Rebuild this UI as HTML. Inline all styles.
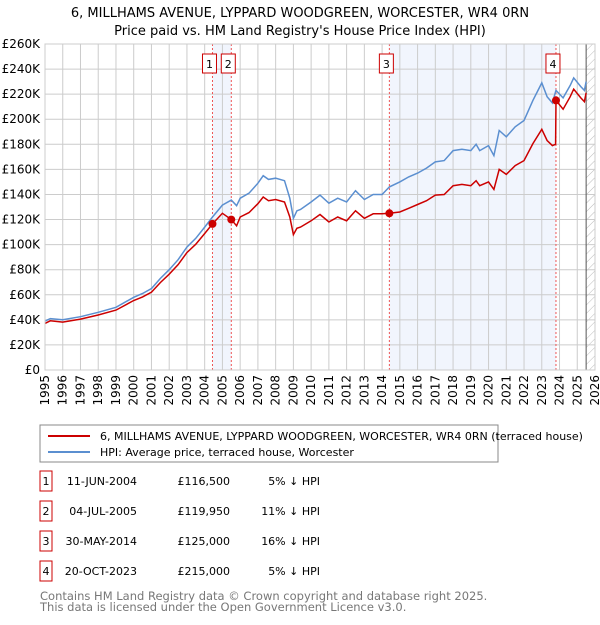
<!DOCTYPE html>
<html><head><meta charset="utf-8"><style>
body{margin:0;background:#fff;font-family:"Liberation Sans",sans-serif;}
svg text{font-family:"DejaVu Sans","Liberation Sans",sans-serif;}
</style></head><body>
<svg width="600" height="620" xmlns="http://www.w3.org/2000/svg">
<defs><pattern id="hatch" width="6" height="6" patternUnits="userSpaceOnUse" patternTransform="rotate(45)"><line x1="0" y1="0" x2="0" y2="6" stroke="#bbb" stroke-width="1"/></pattern></defs>
<text x="300" y="17" text-anchor="middle" font-size="13">6, MILLHAMS AVENUE, LYPPARD WOODGREEN, WORCESTER, WR4 0RN</text>
<text x="300" y="35" text-anchor="middle" font-size="13">Price paid vs. HM Land Registry's House Price Index (HPI)</text>
<g id="plot"></g>
<rect x="40" y="425" width="458" height="37" fill="none" stroke="#888"/>
<line x1="48" y1="436" x2="90" y2="436" stroke="#cc0000" stroke-width="2"/>
<text x="100" y="440" font-size="11">6, MILLHAMS AVENUE, LYPPARD WOODGREEN, WORCESTER, WR4 0RN (terraced house)</text>
<line x1="48" y1="452" x2="90" y2="452" stroke="#5b8fd0" stroke-width="2"/>
<text x="100" y="456" font-size="11">HPI: Average price, terraced house, Worcester</text>
<g id="table" font-size="11"></g>
<text x="40" y="600" font-size="11.5" fill="#777">Contains HM Land Registry data © Crown copyright and database right 2025.</text>
<text x="40" y="611" font-size="11.5" fill="#777">This data is licensed under the Open Government Licence v3.0.</text>
</svg>
<script>
const years=[1995,1995.3,1996,1997,1998,1999,2000,2000.5,2001,2001.5,2002,2002.5,2003,2003.5,2004,2004.44,2005,2005.5,2005.8,2006,2006.5,2007,2007.3,2007.6,2008,2008.5,2008.8,2009,2009.2,2009.4,2010,2010.5,2011,2011.5,2012,2012.5,2013,2013.5,2014,2014.41,2015,2015.5,2016,2016.5,2017,2017.5,2018,2018.5,2019,2019.3,2019.5,2020,2020.3,2020.6,2021,2021.5,2022,2022.5,2023,2023.3,2023.6,2023.78,2023.8,2024.2,2024.6,2024.8,2025.2,2025.4,2025.5];
const hpi=[39,41,40,42.5,46,50,58,61,65,73,80,88,98,105,114,122,131.5,135.5,131,137,141,149,155,152,153,151,137,121,127,128,134,139.5,133,137,134,143,136,140,140,146,150,154,157,161,166,167,175,176,175,180,175,179,171,191,186,194,199,215,229,218,213,222,223,217,227,233,226,223,230];
const price=[37.2,39.2,38.2,40.6,43.9,47.8,55.4,58.3,62.1,69.7,76.4,84,93.6,100.3,108.9,116.5,125,120,115,122,125.5,132.6,138,135,136,134,122,108,113,114,119,124,118,122,119,127,121,124.6,124.6,125,126,129,132,135,139.5,140,147,148,147,151,147,150,144,160,156,163,167,180.6,192,183,179,180,215,208,218,224,217,214,221];
const saleYears=[2004.44,2005.5,2014.41,2023.8];
const salePrices=[116.5,119.95,125,215];
const saleDates=["11-JUN-2004","04-JUL-2005","30-MAY-2014","20-OCT-2023"];
const salePriceLabels=["£116,500","£119,950","£125,000","£215,000"];
const salePct=["5% ↓ HPI","11% ↓ HPI","16% ↓ HPI","5% ↓ HPI"];
const yTicks=[0,20,40,60,80,100,120,140,160,180,200,220,240,260];
const xTicks=[];for(let y=1995;y<=2026;y++)xTicks.push(y);
const NS="http://www.w3.org/2000/svg";
const X0=45,X1=595,Y0=370,Y1=44;
const xs=v=>X0+(v-1995)*(X1-X0)/31;
const ys=v=>Y0-v*(Y0-Y1)/260;
const plot=document.getElementById('plot');
function mk(tag,at,parent){const e=document.createElementNS(NS,tag);for(const k in at)e.setAttribute(k,at[k]);(parent||plot).appendChild(e);return e;}
let s=mk('rect',{x:xs(saleYears[0]),y:Y1,width:xs(saleYears[1])-xs(saleYears[0]),height:Y0-Y1,fill:'#eef3fc',opacity:0.8});


s=mk('rect',{x:xs(saleYears[2]),y:Y1,width:xs(saleYears[3])-xs(saleYears[2]),height:Y0-Y1,fill:'#eef3fc',opacity:0.8});


s=mk('rect',{x:xs(2025.5),y:Y1,width:X1-xs(2025.5),height:Y0-Y1,fill:'url(#hatch)'});


yTicks.forEach(v=>{const l=mk('line',{x1:X0,x2:X1,y1:ys(v),y2:ys(v),stroke:'#ccc'});


const t=mk('text',{x:40,y:ys(v)+4,'text-anchor':'end','font-size':12});t.textContent='£'+(v?v+'K':'0');

});
xTicks.forEach(v=>{const l=mk('line',{x1:xs(v),x2:xs(v),y1:Y1,y2:Y0,stroke:'#ccc'});


const tx=xs(v)+4,ty=375;
const t=mk('text',{x:tx,y:ty,'text-anchor':'end','font-size':12,transform:'rotate(-90 '+tx+' '+ty+')'});t.textContent=v;

});
s=mk('line',{x1:xs(2025.5),x2:xs(2025.5),y1:Y1,y2:Y0,stroke:'#555'});


saleYears.forEach((y,i)=>{const l=mk('line',{x1:xs(y),x2:xs(y),y1:Y1,y2:Y0,stroke:'#e55','stroke-dasharray':'2,2'});

});
const pts=a=>a.map((v,i)=>xs(years[i]).toFixed(1)+','+ys(v).toFixed(1)).join(' ');
s=mk('polyline',{points:pts(hpi),fill:'none',stroke:'#5b8fd0','stroke-width':1.5});


s=mk('polyline',{points:pts(price),fill:'none',stroke:'#cc0000','stroke-width':1.5});


saleYears.forEach((y,i)=>{const c=mk('circle',{cx:xs(y),cy:ys(salePrices[i]),r:4,fill:'#cc0000'});


const g=mk('g',{});


mk('rect',{x:xs(y)-10,y:54,width:14,height:19,fill:'#fff',stroke:'#cc0000'},g);
const t=mk('text',{x:xs(y)-3,y:68,'text-anchor':'middle','font-size':11},g);t.textContent=i+1;});
s=mk('rect',{x:X0,y:Y1,width:X1-X0,height:Y0-Y1,fill:'none',stroke:'#ccc'});


const tb=document.getElementById('table');
saleDates.forEach((d,i)=>{const y=484+i*30;
const g=mk('g',{},tb);


mk('rect',{x:40,y:y-13,width:12,height:20,fill:'#fff',stroke:'#cc0000'},g);
let t=mk('text',{x:46,y:y+1,'text-anchor':'middle'},g);t.textContent=i+1;
t=mk('text',{x:137,y:y+1,'text-anchor':'end'},g);t.textContent=d;
t=mk('text',{x:230,y:y+1,'text-anchor':'end'},g);t.textContent=salePriceLabels[i];
t=mk('text',{x:320,y:y+1,'text-anchor':'end'},g);t.textContent=salePct[i];});
</script>
</body></html>
